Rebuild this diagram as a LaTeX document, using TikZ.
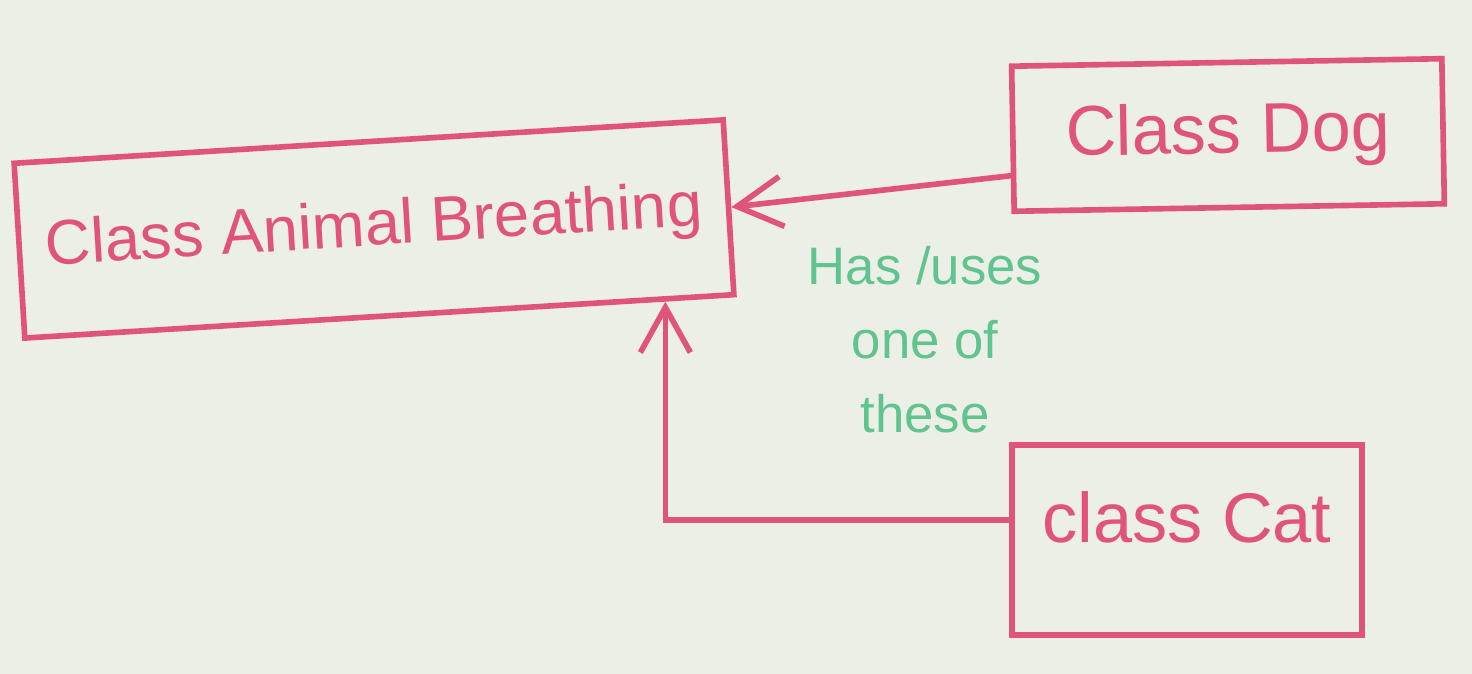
\documentclass[tikz,border=0pt]{standalone}
\usepackage{fontspec}
\setmainfont{Liberation Sans}
\usetikzlibrary{arrows.meta,calc}
\definecolor{marker}{RGB}{224,84,124}
\definecolor{notegreen}{RGB}{96,196,142}
\definecolor{board}{RGB}{236,239,229}

\begin{document}
\begin{tikzpicture}[x=0.01cm,y=-0.01cm,
  classbox/.style={draw=marker,line width=1.6pt,inner sep=0pt,text=marker},
  edge/.style={draw=marker,line width=1.6pt,line cap=round,-{Straight Barb[length=4.5mm,width=5mm]}},
  remark/.style={text=notegreen,align=center,font=\fontsize{15}{21}\selectfont}
]
\fill[board] (0,0) rectangle (1472,674);
\useasboundingbox (0,0) rectangle (1472,674);

\node[classbox,rotate=3.5,minimum width=7.1cm,minimum height=1.75cm,font=\fontsize{18}{20}\selectfont] (animal) at (374,229) {Class Animal Breathing};
\node[classbox,rotate=1,minimum width=4.3cm,minimum height=1.45cm,font=\fontsize{20}{22}\selectfont] (dog) at (1228,135) {Class Dog};
\node[classbox,minimum width=3.5cm,minimum height=1.9cm,text depth=0.45cm,font=\fontsize{20}{22}\selectfont] (cat) at (1187,540) {class Cat};
\node[remark] (note) at (925,340) {Has /uses\\one of\\these};

\coordinate (tip) at ($(animal.south west)!0.9!(animal.south east)$);

\draw[edge] ([yshift=-0.37cm]dog.west)--(animal.east);
\draw[edge] ([yshift=0.2cm]cat.west)-|(tip);
\end{tikzpicture}
\end{document}
